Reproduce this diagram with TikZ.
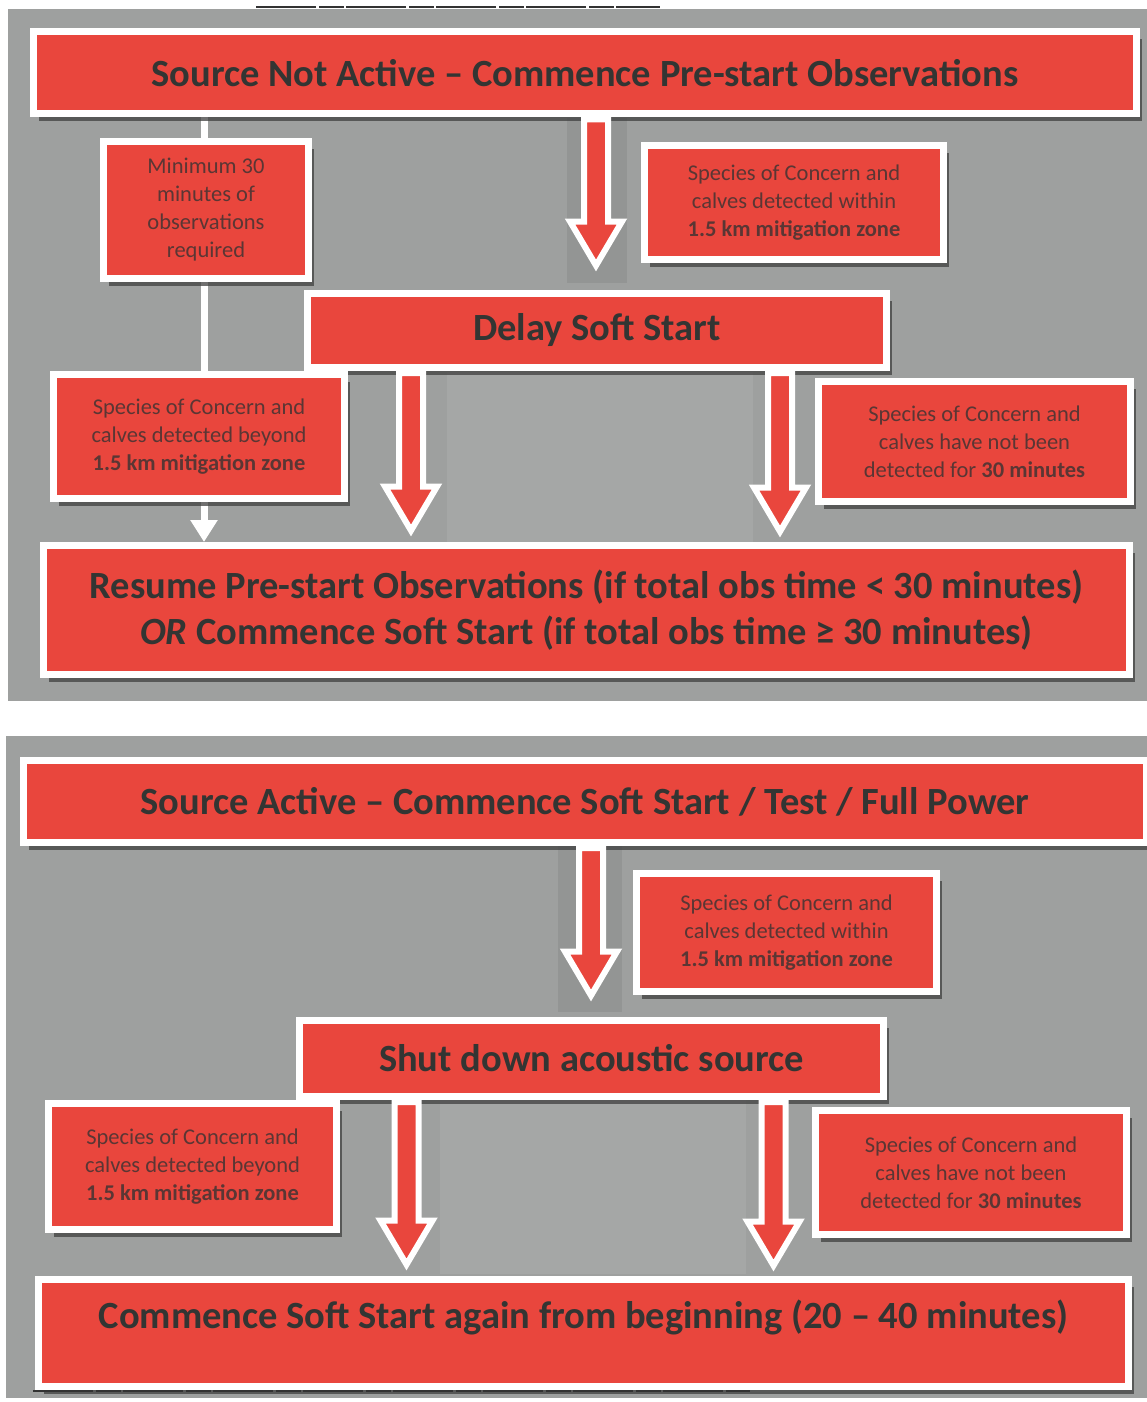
\documentclass[tikz,border=0pt]{standalone}
\usepackage{fontspec}
\setmainfont{Carlito}
\usetikzlibrary{calc,shadows,arrows.meta}
\definecolor{boxred}{HTML}{E9463D}
\definecolor{panelgray}{HTML}{9EA09F}
\definecolor{lightgray2}{HTML}{A5A7A6}
\definecolor{darkband}{HTML}{939594}
\definecolor{titlegray}{HTML}{333533}
\definecolor{smallgray}{HTML}{5A3634}
\newcommand{\titlefnt}{\bfseries\fontsize{38.5}{46}\selectfont}
\newcommand{\smallfnt}{\fontsize{22.5}{28}\selectfont}
\pgfdeclarelayer{bg}
\pgfdeclarelayer{mid}
\pgfsetlayers{bg,mid,main}
\tikzset{
  box/.style={draw=white, line width=7pt, fill=boxred, inner sep=0pt, align=center,
    drop shadow={shadow xshift=5pt, shadow yshift=-7pt, fill=black!75, opacity=0.75}},
  bigtxt/.style={box, font=\titlefnt, text=titlegray},
  smalltxt/.style={box, font=\smallfnt, text=smallgray},
  blockarr/.style={fill=boxred, draw=white, line width=6pt, line join=miter, miter limit=10},
  wline/.style={draw=white, line width=7pt, -{Triangle[length=22pt,width=26pt]}},
  scanline/.style={draw=black!80, line width=1.8pt, dash pattern=on 60pt off 3pt on 25pt off 2pt},
}
% #1 start, #2 target, #3 gap between tip and target box
\newcommand{\blockarrow}[3]{%
  \draw[blockarr] let \p1=(#1), \p2=(#2), \n1={\y2+3.5pt+#3+6pt} in
    (\x1-12pt,\y1-2pt) -- (\x1-12pt,\n1+44pt) -- (\x1-26pt,\n1+44pt) -- (\x1,\n1)
    -- (\x1+26pt,\n1+44pt) -- (\x1+12pt,\n1+44pt) -- (\x1+12pt,\y1-2pt) -- cycle;}
\begin{document}
\begin{tikzpicture}[x=1pt,y=-1pt]
\useasboundingbox (0,0) rectangle (1147,1402);
\begin{pgfonlayer}{bg}
  \fill[white] (0,0) rectangle (1147,1402);
  \fill[panelgray] (8,9) rectangle (1147,701);
  \fill[panelgray] (6,736) rectangle (1147,1398);
  \fill[darkband] (567,118) rectangle (627,283);
  \fill[lightgray2] (447,372) rectangle (753,542);
  \fill[darkband] (558,846) rectangle (622,1012);
  \fill[lightgray2] (440,1100) rectangle (746,1274);
\end{pgfonlayer}

% ---- upper panel
\node[bigtxt, minimum width=1103pt, minimum height=82pt] (t1) at (585,73)
  {Source Not Active -- Commence Pre-start Observations};
\node[smalltxt, minimum width=205pt, minimum height=137pt] (mino) at (206,210)
  {Minimum 30\\minutes of\\observations\\required};
\node[smalltxt, minimum width=299pt, minimum height=114pt] (win1) at (794,202.5)
  {Species of Concern and\\calves detected within\\\textbf{1.5 km mitigation zone}};
\node[bigtxt, minimum width=579pt, minimum height=74pt] (delay) at (597,330.5)
  {Delay Soft Start};
\node[smalltxt, minimum width=291pt, minimum height=124pt] (bey1) at (199,436.5)
  {Species of Concern and\\calves detected beyond\\\textbf{1.5 km mitigation zone}};
\node[smalltxt, minimum width=312pt, minimum height=120pt] (nb1) at (974.5,441.5)
  {Species of Concern and\\calves have not been\\detected for \textbf{30 minutes}};
\node[bigtxt, minimum width=1086pt, minimum height=129pt] (res) at (586.5,610)
  {Resume Pre-start Observations (if total obs time < 30 minutes)\\
   \textit{OR} Commence Soft Start (if total obs time ≥ 30 minutes)};

% ---- lower panel
\node[bigtxt, minimum width=1123pt, minimum height=82pt] (a1) at (585,801.5)
  {Source Active -- Commence Soft Start / Test / Full Power};
\node[smalltxt, minimum width=300pt, minimum height=118pt] (win2) at (786.5,932.5)
  {Species of Concern and\\calves detected within\\\textbf{1.5 km mitigation zone}};
\node[bigtxt, minimum width=584pt, minimum height=76pt] (shut) at (591.5,1058.5)
  {Shut down acoustic source};
\node[smalltxt, minimum width=288pt, minimum height=126pt] (bey2) at (192.5,1166.5)
  {Species of Concern and\\calves detected beyond\\\textbf{1.5 km mitigation zone}};
\node[smalltxt, minimum width=311pt, minimum height=124pt] (nb2) at (971,1172.5)
  {Species of Concern and\\calves have not been\\detected for \textbf{30 minutes}};
\node[bigtxt, minimum width=1090pt, minimum height=107pt, text depth=38pt] (fin) at (583.5,1333)
  {Commence Soft Start again from beginning (20 -- 40 minutes)};

% ---- connectors
\coordinate (ls) at ([xshift=-381pt]t1.south);
\begin{pgfonlayer}{mid}
  \draw[wline] (ls) -- (res.north -| ls);
\end{pgfonlayer}
\blockarrow{[xshift=11pt]t1.south}{delay.north}{15pt}
\blockarrow{[xshift=-186pt]delay.south}{res.north}{2pt}
\blockarrow{[xshift=183pt]delay.south}{res.north}{1pt}
\blockarrow{[xshift=6pt]a1.south}{shut.north}{12pt}
\blockarrow{[xshift=-185pt]shut.south}{fin.north}{2pt}
\blockarrow{[xshift=182pt]shut.south}{fin.north}{1pt}

% ---- scan marks
\draw[scanline] (256,7) -- (660,7);
\draw[scanline] (33,1391) -- (750,1391);
\end{tikzpicture}
\end{document}
